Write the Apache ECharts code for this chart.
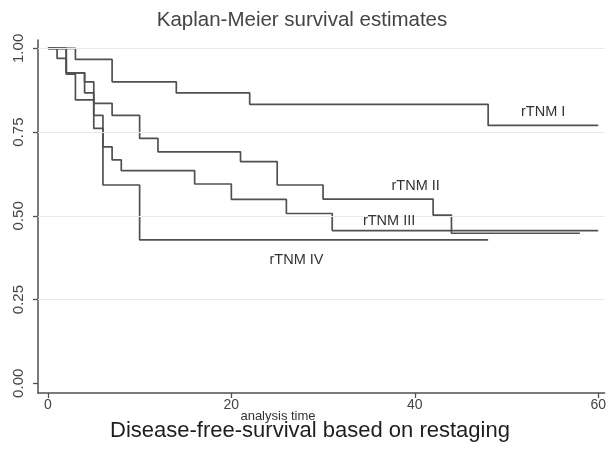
<!DOCTYPE html>
<html><head><meta charset="utf-8">
<script src="https://cdn.jsdelivr.net/npm/echarts@6/dist/echarts.min.js"></script>
<style>html,body{margin:0;padding:0;background:#fff}#c{width:609px;height:457px}</style>
</head><body><div id="c"></div>
<script>
const xTicks = [0, 20, 40, 60];
const yTicks = [0, 0.25, 0.5, 0.75, 1];
const yTickLabels = ['0.00', '0.25', '0.50', '0.75', '1.00'];
const gridValues = [0.25, 0.5, 0.75, 1];
const groupNames = ['rTNM I', 'rTNM II', 'rTNM III', 'rTNM IV'];
const timeI = [0, 3, 7, 14, 22, 48, 60];
const survI = [1, 0.967, 0.9, 0.867, 0.833, 0.77, 0.77];
const timeII = [0, 2, 4, 5, 7, 10, 12, 21, 25, 30, 42, 44, 58];
const survII = [1, 0.927, 0.9, 0.836, 0.8, 0.731, 0.691, 0.662, 0.592, 0.55, 0.502, 0.448, 0.448];
const timeIII = [0, 1, 2, 4, 5, 6, 7, 8, 16, 20, 26, 31, 60];
const survIII = [1, 0.97, 0.927, 0.867, 0.8, 0.706, 0.667, 0.635, 0.595, 0.549, 0.507, 0.456, 0.456];
const timeIV = [0, 2, 3, 5, 6, 10, 48];
const survIV = [1, 0.923, 0.846, 0.761, 0.592, 0.428, 0.428];
const labelPos = [[54, 0.811], [40.1, 0.589], [37.2, 0.485], [27.1, 0.368]];

const groups = [[timeI, survI], [timeII, survII], [timeIII, survIII], [timeIV, survIV]];
const lineColor = '#505050';
const fam = 'Liberation Sans, Arial, sans-serif';

const series = groups.map(function (g, i) {
  return {
    type: 'line',
    name: groupNames[i],
    step: 'end',
    showSymbol: false,
    silent: true,
    z: 3,
    lineStyle: { color: lineColor, width: 1.7 },
    data: g[0].map(function (t, k) { return [t, g[1][k]]; }),
    markPoint: {
      symbol: 'circle',
      symbolSize: 1,
      itemStyle: { color: 'rgba(0,0,0,0)' },
      label: { show: true, position: 'inside', color: '#333', fontSize: 14.5, fontFamily: fam,
        formatter: function () { return groupNames[i]; } },
      data: [{ coord: labelPos[i] }]
    }
  };
});

series.push({
  type: 'line',
  data: [],
  silent: true,
  z: 1,
  markLine: {
    silent: true,
    symbol: 'none',
    label: { show: false },
    lineStyle: { color: '#e9e9e9', width: 1.2, type: 'solid' },
    data: gridValues.map(function (v) { return { yAxis: v }; })
  }
});

const chart = echarts.init(document.getElementById('c'), null, { renderer: 'canvas' });
chart.setOption({
  animation: false,
  backgroundColor: '#fff',
  grid: { left: 38, right: 0, top: 40, bottom: 64, containLabel: false },
  xAxis: {
    type: 'value', min: -1.08, max: 60.7,
    axisLine: { show: true, onZero: false, lineStyle: { color: '#505050', width: 1.5 } },
    axisTick: { show: true, customValues: xTicks, length: 5, lineStyle: { color: '#505050', width: 1.3 } },
    axisLabel: { customValues: xTicks, fontSize: 14, color: '#444', margin: 5, fontFamily: fam },
    splitLine: { show: false }
  },
  yAxis: {
    type: 'value', min: -0.029, max: 1.025,
    axisLine: { show: true, onZero: false, lineStyle: { color: '#505050', width: 1.5 } },
    axisTick: { show: true, customValues: yTicks, length: 5, lineStyle: { color: '#505050', width: 1.3 } },
    axisLabel: { customValues: yTicks, rotate: 90, fontSize: 15, color: '#444', margin: 12, fontFamily: fam,
      formatter: function (v) { var k = yTicks.indexOf(v); return k >= 0 ? yTickLabels[k] : ''; } },
    splitLine: { show: false }
  },
  graphic: [
    { type: 'text', x: 302, y: 20, style: { text: 'Kaplan-Meier survival estimates', fill: '#444', fontSize: 20.5, fontFamily: fam, textAlign: 'center', textVerticalAlign: 'middle' } },
    { type: 'text', x: 278, y: 416, style: { text: 'analysis time', fill: '#333', fontSize: 13, fontFamily: fam, textAlign: 'center', textVerticalAlign: 'middle' } },
    { type: 'text', x: 310, y: 431, style: { text: 'Disease-free-survival based on restaging', fill: '#1e1e1e', fontSize: 22, fontFamily: fam, textAlign: 'center', textVerticalAlign: 'middle' } }
  ],
  series: series
});
</script>
</body></html>
